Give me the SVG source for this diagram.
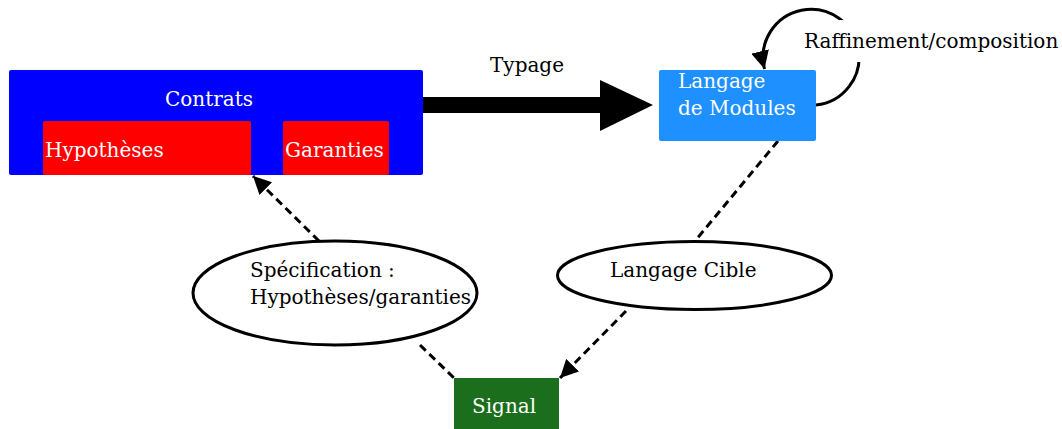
<svg xmlns="http://www.w3.org/2000/svg" width="1062" height="429" viewBox="0 0 1062 429">
  <style>
    text { font-family: "DejaVu Serif", "Liberation Serif", serif; font-size: 20px; }
    .light { fill: #ffffff; }
    .dark { fill: #000000; }
    .dash { fill: none; stroke: #000; stroke-width: 3; stroke-dasharray: 8 5; }
    .oval { fill: #ffffff; stroke: #000; stroke-width: 3; }
  </style>
  <defs>
    <marker id="head" viewBox="0 0 10 10" refX="10" refY="5" markerWidth="6" markerHeight="6" orient="auto" markerUnits="strokeWidth">
      <path d="M0,0 L10,5 L0,10 z" fill="#000"/>
    </marker>
  </defs>

  <!-- connectors -->
  <g id="connectors">
    <!-- Typage: thick arrow -->
    <rect x="423" y="97" width="180" height="16" fill="#000"/>
    <polygon points="600,80 653,105 600,131" fill="#000"/>
    <text class="dark" x="490" y="72">Typage</text>

    <!-- Raffinement/composition self loop -->
    <path d="M816,105 A48,48 0 1 0 764.5,69" fill="none" stroke="#000" stroke-width="3" marker-end="url(#head)"/>
    <rect x="800" y="20" width="262" height="42" fill="#ffffff"/>
    <text class="dark" x="804" y="48">Raffinement/composition</text>

    <path class="dash" d="M319,241 L253,176" marker-end="url(#head)"/>
    <path class="dash" d="M420,345 L454,378"/>
    <path class="dash" d="M778,141 L695,241"/>
    <path class="dash" d="M626,311 L560,378" marker-end="url(#head)"/>
  </g>

  <g id="contrats">
    <rect x="9" y="70" width="414" height="105" rx="2" fill="#0000ff"/>
    <text class="light" x="165" y="106">Contrats</text>
  </g>
  <g id="hypotheses">
    <rect x="43" y="121" width="208" height="54" rx="2" fill="#ff0000"/>
    <text class="light" x="45" y="157">Hypothèses</text>
  </g>
  <g id="garanties">
    <rect x="283" y="121" width="106" height="54" rx="2" fill="#ff0000"/>
    <text class="light" x="285" y="157">Garanties</text>
  </g>

  <g id="langage-modules">
    <rect x="659" y="70" width="157" height="71" rx="2" fill="#1e90ff"/>
    <text class="light" x="678" y="88">Langage</text>
    <text class="light" x="678" y="115">de Modules</text>
  </g>

  <g id="specification">
    <ellipse class="oval" cx="335" cy="293" rx="142" ry="52"/>
    <text class="dark" x="250" y="277">Spécification :</text>
    <text class="dark" x="250" y="304">Hypothèses/garanties</text>
  </g>

  <g id="langage-cible">
    <ellipse class="oval" cx="694.5" cy="275.5" rx="137" ry="34"/>
    <text class="dark" x="610" y="277">Langage Cible</text>
  </g>

  <g id="signal">
    <rect x="454" y="378" width="105" height="55" fill="#1b6e1b"/>
    <text class="light" x="472" y="413">Signal</text>
  </g>
</svg>
